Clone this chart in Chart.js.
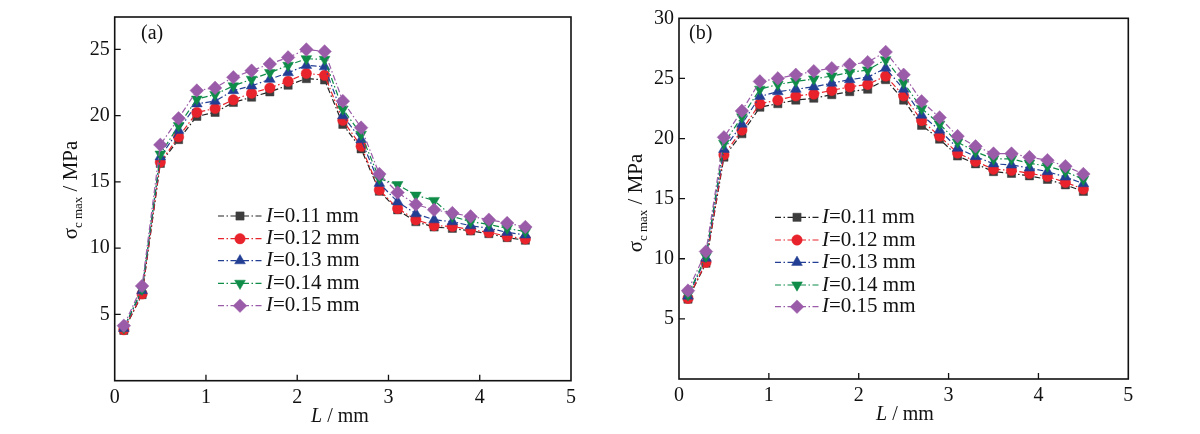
<!DOCTYPE html>
<html>
<head>
<meta charset="utf-8">
<script src="https://cdn.jsdelivr.net/npm/chart.js@4.4.1/dist/chart.umd.min.js"></script>
<style>
  html, body { margin: 0; padding: 0; background: #fff; }
  #wrap { position: relative; width: 1200px; height: 434px; overflow: hidden; }
  canvas { position: absolute; top: 0; }
  #ca { left: 0; }
  #cb { left: 600px; }
</style>
</head>
<body>
<div id="wrap">
  <canvas id="ca" width="600" height="434"></canvas>
  <canvas id="cb" width="600" height="434"></canvas>
</div>
<script>
// ---- data ----
const L = [0.1, 0.3, 0.5, 0.7, 0.9, 1.1, 1.3, 1.5, 1.7, 1.9, 2.1, 2.3, 2.5, 2.7, 2.9, 3.1, 3.3, 3.5, 3.7, 3.9, 4.1, 4.3, 4.5];
const seriesLabels = ["0.11", "0.12", "0.13", "0.14", "0.15"];

const a011 = [3.8, 6.5, 16.4, 18.2, 19.95, 20.25, 21.0, 21.4, 21.8, 22.3, 22.8, 22.7, 19.35, 17.5, 14.3, 12.9, 12.0, 11.6, 11.5, 11.3, 11.1, 10.8, 10.6];
const a012 = [3.85, 6.55, 16.5, 18.4, 20.25, 20.55, 21.2, 21.7, 22.1, 22.6, 23.2, 23.05, 19.65, 17.7, 14.4, 13.0, 12.15, 11.7, 11.65, 11.4, 11.2, 10.9, 10.7];
const a013 = [3.95, 6.8, 16.9, 18.9, 20.9, 21.1, 21.9, 22.25, 22.75, 23.25, 23.8, 23.7, 20.0, 18.2, 14.9, 13.5, 12.6, 12.15, 12.0, 11.7, 11.5, 11.2, 11.0];
const a014 = [4.0, 6.9, 17.1, 19.25, 21.25, 21.6, 22.25, 22.75, 23.25, 23.8, 24.3, 24.25, 20.5, 18.6, 15.25, 14.8, 14.0, 13.6, 12.4, 12.0, 11.8, 11.5, 11.25];
const a015 = [4.15, 7.15, 17.8, 19.8, 21.9, 22.1, 22.9, 23.4, 23.9, 24.4, 25.0, 24.85, 21.1, 19.1, 15.6, 14.2, 13.3, 12.9, 12.65, 12.4, 12.15, 11.9, 11.6];

const b011 = [6.64, 9.63, 18.45, 20.4, 22.6, 22.9, 23.2, 23.35, 23.65, 23.9, 24.1, 24.9, 23.2, 21.1, 19.95, 18.55, 17.9, 17.25, 17.1, 16.9, 16.6, 16.15, 15.6];
const b012 = [6.7, 9.7, 18.65, 20.7, 22.9, 23.2, 23.55, 23.7, 24.0, 24.3, 24.5, 25.2, 23.55, 21.5, 20.2, 18.8, 18.1, 17.45, 17.35, 17.1, 16.85, 16.35, 15.8];
const b013 = [6.9, 10.05, 19.1, 21.2, 23.5, 23.9, 24.1, 24.3, 24.6, 24.9, 25.1, 25.85, 24.1, 21.95, 20.7, 19.2, 18.5, 17.9, 17.8, 17.55, 17.25, 16.8, 16.25];
const b014 = [7.0, 10.2, 19.6, 21.8, 24.1, 24.5, 24.75, 24.95, 25.2, 25.5, 25.7, 26.55, 24.65, 22.5, 21.2, 19.7, 18.9, 18.3, 18.3, 17.95, 17.7, 17.25, 16.6];
const b015 = [7.35, 10.6, 20.1, 22.3, 24.75, 25.0, 25.3, 25.6, 25.85, 26.15, 26.35, 27.2, 25.3, 23.1, 21.75, 20.2, 19.35, 18.75, 18.75, 18.45, 18.2, 17.7, 17.05];

const xTicks = [0, 1, 2, 3, 4, 5];
const yTicksA = [5, 10, 15, 20, 25];
const yTicksB = [5, 10, 15, 20, 25, 30];

// ---- styles ----
const SERIF = "'Liberation Serif', 'DejaVu Serif', serif";
const styles = [
  { color: '#3d3d3d', line: '#222222', pointStyle: 'rect', radius: 5.8, rotation: 0 },
  { color: '#e8232b', line: '#e8232b', pointStyle: 'circle', radius: 5.2, rotation: 0 },
  { color: '#233f94', line: '#233f94', pointStyle: 'triangle', radius: 6.2, rotation: 0 },
  { color: '#0e8c48', line: '#0e8c48', pointStyle: 'triangle', radius: 6.2, rotation: 180 },
  { color: '#9a5ba8', line: '#9a5ba8', pointStyle: 'rectRot', radius: 6.8, rotation: 0 }
];
const DASH = [6, 2.5, 1.5, 2.5];

function buildDatasets(arrs) {
  return arrs.map((vals, i) => ({
    label: 'I=' + seriesLabels[i] + ' mm',
    data: L.map((x, k) => ({ x: x, y: vals[k] })),
    borderColor: styles[i].line,
    backgroundColor: styles[i].color,
    pointBackgroundColor: styles[i].color,
    pointBorderColor: styles[i].color,
    pointBorderWidth: 0.5,
    pointStyle: styles[i].pointStyle,
    pointRadius: styles[i].radius,
    pointRotation: styles[i].rotation,
    borderWidth: 1.2,
    borderDash: DASH,
    tension: 0,
    order: 5 - i
  }));
}

// frame + inward ticks + texts
const decorPlugin = {
  id: 'decor',
  afterDraw(chart, args, o) {
    const ctx = chart.ctx;
    const ca = chart.chartArea;
    const xs = chart.scales.x, ys = chart.scales.y;
    ctx.save();
    ctx.strokeStyle = '#111';
    ctx.lineWidth = 1.6;
    ctx.setLineDash([]);
    ctx.strokeRect(ca.left, ca.top, ca.right - ca.left, ca.bottom - ca.top);
    ctx.lineWidth = 1.3;
    ctx.beginPath();
    o.xt.forEach(v => {
      if (v <= xs.min || v >= xs.max) return;
      const px = xs.getPixelForValue(v);
      ctx.moveTo(px, ca.bottom);
      ctx.lineTo(px, ca.bottom - 6);
    });
    o.yt.forEach(v => {
      if (v <= ys.min || v >= ys.max) return;
      const py = ys.getPixelForValue(v);
      ctx.moveTo(ca.left, py);
      ctx.lineTo(ca.left + 6, py);
    });
    ctx.stroke();

    // panel label
    ctx.fillStyle = '#111';
    ctx.font = '20px ' + SERIF;
    ctx.textBaseline = 'middle';
    ctx.textAlign = 'left';
    ctx.fillText(o.panel, o.panelX, o.panelY);

    // x title: italic L + " / mm"
    ctx.textBaseline = 'middle';
    const xt1 = 'L', xt2 = ' / mm';
    ctx.font = 'italic 20px ' + SERIF;
    const w1 = ctx.measureText(xt1).width;
    ctx.font = '20px ' + SERIF;
    const w2 = ctx.measureText(xt2).width;
    let sx = o.xTitleX - (w1 + w2) / 2;
    ctx.font = 'italic 20px ' + SERIF;
    ctx.fillText(xt1, sx, o.xTitleY);
    ctx.font = '20px ' + SERIF;
    ctx.fillText(xt2, sx + w1, o.xTitleY);

    // y title rotated: sigma, subscript "c max", " / MPa"
    ctx.save();
    ctx.translate(o.yTitleX, o.yTitleY);
    ctx.rotate(-Math.PI / 2);
    ctx.textBaseline = 'alphabetic';
    const parts = [
      { t: '\u03c3', f: '21px ' + SERIF, dy: 0 },
      { t: 'c max', f: '13px ' + SERIF, dy: 5 },
      { t: ' / MPa', f: '21px ' + SERIF, dy: 0 }
    ];
    let tot = 0;
    parts.forEach(p => { ctx.font = p.f; p.w = ctx.measureText(p.t).width; tot += p.w; });
    let cx = -tot / 2;
    parts.forEach(p => {
      ctx.font = p.f;
      ctx.fillText(p.t, cx, 7 + p.dy);
      cx += p.w;
    });
    ctx.restore();

    // legend
    const lg = o.legend;
    chart.data.datasets.forEach((ds, i) => {
      const y = lg.rows[i];
      ctx.save();
      ctx.strokeStyle = ds.borderColor;
      ctx.lineWidth = 1.2;
      ctx.setLineDash(DASH);
      ctx.beginPath();
      ctx.moveTo(lg.x0, y);
      ctx.lineTo(lg.x1, y);
      ctx.stroke();
      ctx.setLineDash([]);
      ctx.fillStyle = ds.pointBackgroundColor;
      ctx.strokeStyle = ds.pointBorderColor;
      ctx.lineWidth = 0.5;
      Chart.helpers.drawPoint(ctx, {
        pointStyle: ds.pointStyle,
        radius: ds.pointRadius,
        rotation: ds.pointRotation,
        borderWidth: 0.5
      }, lg.mx, y);
      ctx.restore();
      ctx.fillStyle = '#111';
      ctx.textBaseline = 'middle';
      ctx.font = 'italic 21px ' + SERIF;
      ctx.fillText('I', lg.tx, y);
      const wi = ctx.measureText('I').width;
      ctx.font = '21px ' + SERIF;
      ctx.fillText('=' + seriesLabels[i] + ' mm', lg.tx + wi, y);
    });
    ctx.restore();
  }
};

function makeChart(id, arrs, cfg) {
  return new Chart(document.getElementById(id), {
    type: 'line',
    data: { datasets: buildDatasets(arrs) },
    plugins: [decorPlugin],
    options: {
      responsive: false,
      animation: false,
      devicePixelRatio: 1,
      layout: { padding: { left: 0, top: cfg.top, right: cfg.right, bottom: 0 } },
      plugins: {
        legend: { display: false },
        tooltip: { enabled: false },
        decor: cfg.decor
      },
      scales: {
        x: {
          type: 'linear',
          min: 0, max: 5,
          afterFit(s) { s.height = 434 - cfg.bottom; },
          afterBuildTicks(s) { s.ticks = xTicks.map(v => ({ value: v })); },
          grid: { display: false, drawTicks: false },
          border: { display: false },
          ticks: {
            color: '#111',
            font: { family: SERIF, size: 20 },
            padding: 5,
            maxRotation: 0,
            callback: v => String(v)
          }
        },
        y: {
          type: 'linear',
          min: 0, max: cfg.ymax,
          afterFit(s) { s.width = cfg.left; },
          afterBuildTicks(s) { s.ticks = cfg.yt.map(v => ({ value: v })); },
          grid: { display: false, drawTicks: false },
          border: { display: false },
          ticks: {
            color: '#111',
            font: { family: SERIF, size: 20 },
            padding: 5,
            callback: v => String(v)
          }
        }
      }
    }
  });
}

makeChart('ca', [a011, a012, a013, a014, a015], {
  left: 114.7, right: 29, top: 14, bottom: 380.7, ymax: 27.45, yt: yTicksA,
  decor: {
    xt: xTicks, yt: yTicksA,
    panel: '(a)', panelX: 141, panelY: 34,
    xTitleX: 340, xTitleY: 417,
    yTitleX: 70, yTitleY: 190,
    legend: { x0: 218, x1: 263, mx: 240, tx: 266, rows: [216, 238.7, 260.7, 283.3, 305.7] }
  }
});

makeChart('cb', [b011, b012, b013, b014, b015], {
  left: 79, right: 71.7, top: 18.3, bottom: 379, ymax: 30, yt: yTicksB,
  decor: {
    xt: xTicks, yt: yTicksB,
    panel: '(b)', panelX: 89, panelY: 34,
    xTitleX: 305, xTitleY: 415,
    yTitleX: 35, yTitleY: 203,
    legend: { x0: 175, x1: 219, mx: 197, tx: 222, rows: [217.3, 240, 262.3, 285, 306.7] }
  }
});
</script>
</body>
</html>
